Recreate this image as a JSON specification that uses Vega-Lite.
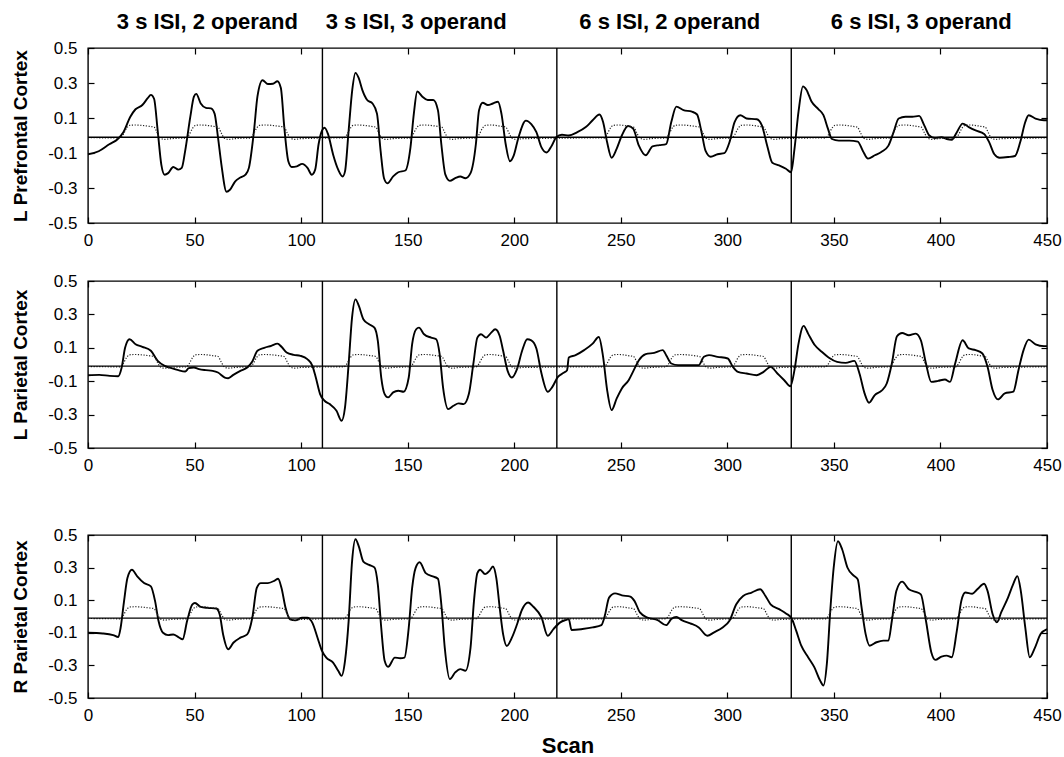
{
  "$schema": "https://vega.github.io/schema/vega-lite/v6.json",
  "padding": {"top": 10, "left": 11, "right": 3, "bottom": 0},
  "background": "white",
  "config": {
    "font": "Liberation Sans",
    "view": {"stroke": "black", "strokeWidth": 1.4},
    "axis": {"grid": false, "domain": false, "tickColor": "black", "tickSize": -6, "tickWidth": 1.2, "labelColor": "black", "labelFont": "Liberation Sans", "labelFontSize": 17, "titleColor": "black", "titleFont": "Liberation Sans", "labelFlush": false}
  },
  "datasets": {
    "sep": [{"scan": 110}, {"scan": 220}, {"scan": 330}],
    "base": [{"value": -0.01}],
    "titles": [
      {"scan": 56, "label": "3 s ISI, 2 operand"},
      {"scan": 154, "label": "3 s ISI, 3 operand"},
      {"scan": 273, "label": "6 s ISI, 2 operand"},
      {"scan": 391, "label": "6 s ISI, 3 operand"}
    ],
    "model": [
      {"scan":0,"value":-0.012},{"scan":15,"value":-0.014},{"scan":16.5,"value":0.005},{"scan":18,"value":0.04},{"scan":19.5,"value":0.058},{"scan":22,"value":0.06},{"scan":29,"value":0.052},{"scan":31,"value":0.048},{"scan":32.5,"value":0.015},{"scan":34,"value":-0.015},{"scan":36,"value":-0.022},{"scan":39,"value":-0.018},{"scan":45,"value":-0.015},
      {"scan":46,"value":-0.015},{"scan":47.5,"value":0.005},{"scan":49,"value":0.04},{"scan":50.5,"value":0.058},{"scan":53,"value":0.06},{"scan":59,"value":0.052},{"scan":61,"value":0.048},{"scan":62.5,"value":0.015},{"scan":64,"value":-0.015},{"scan":66,"value":-0.022},{"scan":69,"value":-0.018},{"scan":75,"value":-0.015},
      {"scan":76,"value":-0.015},{"scan":77.5,"value":0.005},{"scan":79,"value":0.04},{"scan":80.5,"value":0.058},{"scan":83,"value":0.06},{"scan":90,"value":0.052},{"scan":92,"value":0.048},{"scan":93.5,"value":0.015},{"scan":95,"value":-0.015},{"scan":97,"value":-0.022},{"scan":100,"value":-0.018},{"scan":119,"value":-0.014},
      {"scan":120,"value":-0.015},{"scan":121.5,"value":0.005},{"scan":123,"value":0.04},{"scan":124.5,"value":0.058},{"scan":127,"value":0.06},{"scan":133,"value":0.052},{"scan":135,"value":0.048},{"scan":136.5,"value":0.015},{"scan":138,"value":-0.015},{"scan":140,"value":-0.022},{"scan":143,"value":-0.018},{"scan":150,"value":-0.015},
      {"scan":151,"value":-0.015},{"scan":152.5,"value":0.005},{"scan":154,"value":0.04},{"scan":155.5,"value":0.058},{"scan":158,"value":0.06},{"scan":164,"value":0.052},{"scan":166,"value":0.048},{"scan":167.5,"value":0.015},{"scan":169,"value":-0.015},{"scan":171,"value":-0.022},{"scan":174,"value":-0.018},{"scan":181,"value":-0.015},
      {"scan":182,"value":-0.015},{"scan":183.5,"value":0.005},{"scan":185,"value":0.04},{"scan":186.5,"value":0.058},{"scan":189,"value":0.06},{"scan":194,"value":0.052},{"scan":196,"value":0.048},{"scan":197.5,"value":0.015},{"scan":199,"value":-0.015},{"scan":201,"value":-0.022},{"scan":204,"value":-0.018},{"scan":241,"value":-0.014},
      {"scan":242,"value":-0.015},{"scan":243.5,"value":0.005},{"scan":245,"value":0.04},{"scan":246.5,"value":0.058},{"scan":249,"value":0.06},{"scan":254,"value":0.052},{"scan":256,"value":0.048},{"scan":257.5,"value":0.015},{"scan":259,"value":-0.015},{"scan":261,"value":-0.022},{"scan":264,"value":-0.018},{"scan":270,"value":-0.015},
      {"scan":271,"value":-0.015},{"scan":272.5,"value":0.005},{"scan":274,"value":0.04},{"scan":275.5,"value":0.058},{"scan":278,"value":0.06},{"scan":285,"value":0.052},{"scan":287,"value":0.048},{"scan":288.5,"value":0.015},{"scan":290,"value":-0.015},{"scan":292,"value":-0.022},{"scan":295,"value":-0.018},{"scan":301,"value":-0.015},
      {"scan":302,"value":-0.015},{"scan":303.5,"value":0.005},{"scan":305,"value":0.04},{"scan":306.5,"value":0.058},{"scan":309,"value":0.06},{"scan":315,"value":0.052},{"scan":317,"value":0.048},{"scan":318.5,"value":0.015},{"scan":320,"value":-0.015},{"scan":322,"value":-0.022},{"scan":325,"value":-0.018},{"scan":345,"value":-0.014},
      {"scan":346,"value":-0.015},{"scan":347.5,"value":0.005},{"scan":349,"value":0.04},{"scan":350.5,"value":0.058},{"scan":353,"value":0.06},{"scan":359,"value":0.052},{"scan":361,"value":0.048},{"scan":362.5,"value":0.015},{"scan":364,"value":-0.015},{"scan":366,"value":-0.022},{"scan":369,"value":-0.018},{"scan":375,"value":-0.015},
      {"scan":376,"value":-0.015},{"scan":377.5,"value":0.005},{"scan":379,"value":0.04},{"scan":380.5,"value":0.058},{"scan":383,"value":0.06},{"scan":389,"value":0.052},{"scan":391,"value":0.048},{"scan":392.5,"value":0.015},{"scan":394,"value":-0.015},{"scan":396,"value":-0.022},{"scan":399,"value":-0.018},{"scan":406,"value":-0.015},
      {"scan":407,"value":-0.015},{"scan":408.5,"value":0.005},{"scan":410,"value":0.04},{"scan":411.5,"value":0.058},{"scan":414,"value":0.06},{"scan":419,"value":0.052},{"scan":421,"value":0.048},{"scan":422.5,"value":0.015},{"scan":424,"value":-0.015},{"scan":426,"value":-0.022},{"scan":429,"value":-0.018},{"scan":450,"value":-0.014}
    ],
    "pfc": [
      {"scan":0,"value":-0.108},{"scan":5,"value":-0.09},{"scan":10,"value":-0.05},{"scan":14,"value":-0.02},{"scan":16.6,"value":0.018},{"scan":19.8,"value":0.106},{"scan":22.3,"value":0.15},{"scan":25.5,"value":0.174},{"scan":28,"value":0.213},{"scan":29.5,"value":0.232},{"scan":31,"value":0.21},{"scan":32.7,"value":0.028},{"scan":34.4,"value":-0.166},{"scan":36,"value":-0.224},{"scan":37.6,"value":-0.215},{"scan":40,"value":-0.18},{"scan":42.4,"value":-0.195},{"scan":44,"value":-0.185},{"scan":45.6,"value":-0.088},{"scan":48,"value":0.106},{"scan":49.7,"value":0.222},{"scan":50.8,"value":0.238},{"scan":52.9,"value":0.183},{"scan":55.3,"value":0.158},{"scan":57.7,"value":0.155},{"scan":59.4,"value":0.125},{"scan":61,"value":-0.011},{"scan":62.6,"value":-0.166},{"scan":65,"value":-0.321},{"scan":66.6,"value":-0.31},{"scan":69,"value":-0.263},{"scan":71.5,"value":-0.24},{"scan":73.9,"value":-0.224},{"scan":75.5,"value":-0.185},{"scan":77.9,"value":0.028},{"scan":79.5,"value":0.222},{"scan":81.9,"value":0.316},{"scan":84.4,"value":0.294},{"scan":86.8,"value":0.296},{"scan":88.9,"value":0.31},{"scan":90.5,"value":0.271},{"scan":92.1,"value":0.048},{"scan":94,"value":-0.147},{"scan":95.6,"value":-0.18},{"scan":98,"value":-0.176},{"scan":100.5,"value":-0.162},{"scan":103,"value":-0.185},{"scan":105,"value":-0.224},{"scan":106.6,"value":-0.195},{"scan":108.2,"value":-0.05},{"scan":109.8,"value":0.028},{"scan":111,"value":0.044},{"scan":112.6,"value":0.009},{"scan":115,"value":-0.108},{"scan":117.4,"value":-0.195},{"scan":119.5,"value":-0.234},{"scan":120.6,"value":-0.205},{"scan":122.3,"value":0.028},{"scan":124,"value":0.261},{"scan":125.5,"value":0.358},{"scan":127,"value":0.329},{"scan":128.7,"value":0.261},{"scan":131,"value":0.203},{"scan":133.5,"value":0.183},{"scan":135.6,"value":0.125},{"scan":137.3,"value":-0.088},{"scan":138.9,"value":-0.244},{"scan":140.5,"value":-0.273},{"scan":143.2,"value":-0.234},{"scan":145.6,"value":-0.21},{"scan":148.9,"value":-0.2},{"scan":151.3,"value":-0.069},{"scan":152.9,"value":0.125},{"scan":154.5,"value":0.251},{"scan":156.9,"value":0.222},{"scan":159.4,"value":0.203},{"scan":162,"value":0.203},{"scan":164.2,"value":0.145},{"scan":165.8,"value":-0.05},{"scan":167.7,"value":-0.224},{"scan":169.8,"value":-0.259},{"scan":172.3,"value":-0.244},{"scan":174.7,"value":-0.234},{"scan":177.1,"value":-0.244},{"scan":179.5,"value":-0.215},{"scan":182,"value":-0.05},{"scan":183.5,"value":0.145},{"scan":185.2,"value":0.187},{"scan":187.6,"value":0.174},{"scan":190,"value":0.183},{"scan":192.4,"value":0.193},{"scan":194,"value":0.125},{"scan":196,"value":-0.05},{"scan":198,"value":-0.147},{"scan":199.7,"value":-0.117},{"scan":202,"value":-0.011},{"scan":205.5,"value":0.085},{"scan":208,"value":0.065},{"scan":210.4,"value":0.019},{"scan":212.8,"value":-0.068},{"scan":215.2,"value":-0.097},{"scan":217.6,"value":-0.058},{"scan":219.7,"value":-0.01},{"scan":222.4,"value":0.004},{"scan":225.6,"value":0},{"scan":229.6,"value":0.019},{"scan":233.6,"value":0.048},{"scan":236.8,"value":0.087},{"scan":240,"value":0.12},{"scan":241.7,"value":0.077},{"scan":243.6,"value":-0.039},{"scan":245.7,"value":-0.127},{"scan":248,"value":-0.078},{"scan":250.5,"value":0},{"scan":253.4,"value":0.054},{"scan":255.8,"value":0.039},{"scan":258.5,"value":-0.058},{"scan":261.7,"value":-0.113},{"scan":264.9,"value":-0.062},{"scan":268.1,"value":-0.055},{"scan":271.3,"value":-0.049},{"scan":273.7,"value":0.077},{"scan":276.1,"value":0.165},{"scan":279.4,"value":0.145},{"scan":283.4,"value":0.136},{"scan":285.8,"value":0.12},{"scan":287.9,"value":0.019},{"scan":289.8,"value":-0.088},{"scan":292.2,"value":-0.121},{"scan":295.4,"value":-0.107},{"scan":298.6,"value":-0.101},{"scan":301,"value":-0.039},{"scan":303.4,"value":0.077},{"scan":306.1,"value":0.116},{"scan":309,"value":0.097},{"scan":313.8,"value":0.093},{"scan":316.2,"value":0.058},{"scan":318.7,"value":-0.058},{"scan":321.1,"value":-0.156},{"scan":324.3,"value":-0.171},{"scan":327.5,"value":-0.19},{"scan":329.9,"value":-0.21},{"scan":331.5,"value":-0.078},{"scan":333.4,"value":0.136},{"scan":335.5,"value":0.281},{"scan":337.1,"value":0.262},{"scan":339.5,"value":0.194},{"scan":342.7,"value":0.151},{"scan":345.1,"value":0.116},{"scan":347.2,"value":0.039},{"scan":349.1,"value":-0.02},{"scan":352.3,"value":-0.029},{"scan":357.2,"value":-0.029},{"scan":361.2,"value":-0.035},{"scan":363.6,"value":-0.088},{"scan":366,"value":-0.132},{"scan":369.2,"value":-0.113},{"scan":372.4,"value":-0.093},{"scan":375.6,"value":-0.058},{"scan":378,"value":0.019},{"scan":380.4,"value":0.097},{"scan":383.6,"value":0.107},{"scan":386.8,"value":0.107},{"scan":390,"value":0.112},{"scan":392.4,"value":0.058},{"scan":394.8,"value":0},{"scan":397.3,"value":-0.014},{"scan":400.5,"value":-0.01},{"scan":402.9,"value":-0.02},{"scan":405.3,"value":-0.024},{"scan":407.7,"value":0.019},{"scan":410.4,"value":0.068},{"scan":413.3,"value":0.048},{"scan":416.5,"value":0.029},{"scan":420.5,"value":0.009},{"scan":422.9,"value":-0.039},{"scan":425.3,"value":-0.107},{"scan":427.8,"value":-0.127},{"scan":431.8,"value":-0.123},{"scan":435,"value":-0.117},{"scan":437.4,"value":-0.039},{"scan":439.8,"value":0.077},{"scan":441.4,"value":0.116},{"scan":444.6,"value":0.097},{"scan":448.6,"value":0.087},{"scan":450,"value":0.087}
    ],
    "lpar": [
      {"scan":0,"value":-0.064},{"scan":5.3,"value":-0.062},{"scan":10.2,"value":-0.068},{"scan":14.2,"value":-0.07},{"scan":15.8,"value":-0.018},{"scan":17.4,"value":0.1},{"scan":19.5,"value":0.151},{"scan":22.3,"value":0.121},{"scan":25.5,"value":0.106},{"scan":29.5,"value":0.082},{"scan":32.7,"value":0.022},{"scan":36,"value":-0.008},{"scan":39.2,"value":-0.022},{"scan":42.4,"value":-0.034},{"scan":45.6,"value":-0.042},{"scan":47.3,"value":-0.022},{"scan":49.7,"value":-0.018},{"scan":52.1,"value":-0.028},{"scan":55.3,"value":-0.034},{"scan":58.5,"value":-0.038},{"scan":61,"value":-0.048},{"scan":64.2,"value":-0.078},{"scan":65.8,"value":-0.082},{"scan":68.2,"value":-0.062},{"scan":71.5,"value":-0.038},{"scan":74.7,"value":-0.018},{"scan":77.1,"value":0.018},{"scan":79.5,"value":0.082},{"scan":82.7,"value":0.1},{"scan":86,"value":0.112},{"scan":88.9,"value":0.125},{"scan":90.8,"value":0.106},{"scan":93.2,"value":0.072},{"scan":96.5,"value":0.058},{"scan":99.7,"value":0.052},{"scan":102.9,"value":0.032},{"scan":105.3,"value":-0.008},{"scan":106.9,"value":-0.078},{"scan":108.9,"value":-0.177},{"scan":111,"value":-0.217},{"scan":113.4,"value":-0.237},{"scan":116.6,"value":-0.277},{"scan":119,"value":-0.337},{"scan":120.6,"value":-0.257},{"scan":122.3,"value":0.002},{"scan":123.9,"value":0.281},{"scan":125.5,"value":0.39},{"scan":127.1,"value":0.351},{"scan":129.2,"value":0.271},{"scan":131.9,"value":0.241},{"scan":134.4,"value":0.221},{"scan":136,"value":0.141},{"scan":137.6,"value":-0.078},{"scan":139.2,"value":-0.177},{"scan":140.8,"value":-0.197},{"scan":143.2,"value":-0.167},{"scan":145.6,"value":-0.157},{"scan":148.1,"value":-0.163},{"scan":150.5,"value":-0.078},{"scan":152.1,"value":0.122},{"scan":154,"value":0.211},{"scan":155.3,"value":0.221},{"scan":157.7,"value":0.181},{"scan":161,"value":0.161},{"scan":163.4,"value":0.151},{"scan":165,"value":0.062},{"scan":166.6,"value":-0.137},{"scan":169,"value":-0.267},{"scan":171.5,"value":-0.247},{"scan":173.9,"value":-0.233},{"scan":176.3,"value":-0.237},{"scan":178.7,"value":-0.177},{"scan":180.8,"value":0.002},{"scan":182.7,"value":0.161},{"scan":184.4,"value":0.181},{"scan":186.8,"value":0.161},{"scan":189.2,"value":0.191},{"scan":191.1,"value":0.211},{"scan":193.2,"value":0.171},{"scan":194.8,"value":0.082},{"scan":196.9,"value":-0.038},{"scan":198.9,"value":-0.078},{"scan":201.3,"value":-0.028},{"scan":203.7,"value":0.082},{"scan":206.1,"value":0.151},{"scan":208,"value":0.145},{"scan":210.4,"value":0.096},{"scan":212.8,"value":-0.054},{"scan":215.7,"value":-0.163},{"scan":217.9,"value":-0.134},{"scan":220.5,"value":-0.074},{"scan":223.2,"value":-0.05},{"scan":224.8,"value":-0.034},{"scan":225.6,"value":0.042},{"scan":228.8,"value":0.056},{"scan":232.8,"value":0.086},{"scan":236.8,"value":0.125},{"scan":239.7,"value":0.165},{"scan":241.7,"value":0.046},{"scan":243.6,"value":-0.153},{"scan":245.7,"value":-0.273},{"scan":248.1,"value":-0.203},{"scan":250.5,"value":-0.143},{"scan":253.7,"value":-0.094},{"scan":256.1,"value":-0.034},{"scan":258.5,"value":0.026},{"scan":261.7,"value":0.062},{"scan":265.7,"value":0.07},{"scan":269.7,"value":0.086},{"scan":271.3,"value":0.056},{"scan":273.7,"value":0.006},{"scan":276.9,"value":-0.004},{"scan":281.8,"value":-0.004},{"scan":286.6,"value":-0.004},{"scan":289,"value":0.046},{"scan":291.4,"value":0.056},{"scan":295.4,"value":0.046},{"scan":300.2,"value":0.036},{"scan":302.6,"value":-0.014},{"scan":305,"value":-0.044},{"scan":309,"value":-0.054},{"scan":313.8,"value":-0.064},{"scan":317,"value":-0.044},{"scan":320.3,"value":-0.014},{"scan":323.5,"value":-0.054},{"scan":326.7,"value":-0.094},{"scan":329.6,"value":-0.13},{"scan":331.5,"value":-0.034},{"scan":333.4,"value":0.125},{"scan":335.8,"value":0.231},{"scan":337.9,"value":0.185},{"scan":341.1,"value":0.115},{"scan":344.3,"value":0.076},{"scan":347.5,"value":0.042},{"scan":351.5,"value":0.016},{"scan":355.5,"value":0.01},{"scan":359.6,"value":0.022},{"scan":362,"value":-0.054},{"scan":364.4,"value":-0.173},{"scan":366.5,"value":-0.229},{"scan":369.2,"value":-0.183},{"scan":372.4,"value":-0.157},{"scan":374.8,"value":-0.114},{"scan":377.2,"value":0.006},{"scan":379.6,"value":0.169},{"scan":382,"value":0.189},{"scan":385.2,"value":0.175},{"scan":388.4,"value":0.185},{"scan":390.8,"value":0.145},{"scan":393.2,"value":0.006},{"scan":395.7,"value":-0.104},{"scan":398.9,"value":-0.098},{"scan":402.1,"value":-0.09},{"scan":404.5,"value":-0.104},{"scan":406.9,"value":0.006},{"scan":410.4,"value":0.145},{"scan":413.3,"value":0.096},{"scan":416.5,"value":0.086},{"scan":419.7,"value":0.066},{"scan":422.1,"value":-0.014},{"scan":424.5,"value":-0.153},{"scan":427,"value":-0.209},{"scan":430.2,"value":-0.173},{"scan":434.2,"value":-0.163},{"scan":436.6,"value":-0.034},{"scan":439,"value":0.086},{"scan":441.4,"value":0.149},{"scan":444.6,"value":0.121},{"scan":448.6,"value":0.11},{"scan":450,"value":0.11}
    ],
    "rpar": [
      {"scan":0,"value":-0.1},{"scan":6.9,"value":-0.104},{"scan":11.8,"value":-0.114},{"scan":14.2,"value":-0.126},{"scan":15.3,"value":-0.069},{"scan":16.9,"value":0.093},{"scan":18.5,"value":0.236},{"scan":20.6,"value":0.287},{"scan":23.1,"value":0.246},{"scan":26.3,"value":0.205},{"scan":29.5,"value":0.185},{"scan":31.5,"value":0.093},{"scan":33.1,"value":-0.028},{"scan":35.2,"value":-0.1},{"scan":37.6,"value":-0.114},{"scan":40,"value":-0.11},{"scan":42.4,"value":-0.126},{"scan":44.4,"value":-0.14},{"scan":46.5,"value":-0.028},{"scan":48.9,"value":0.073},{"scan":50.2,"value":0.083},{"scan":52.9,"value":0.059},{"scan":56.1,"value":0.053},{"scan":60.2,"value":0.049},{"scan":61.8,"value":0.012},{"scan":63.4,"value":-0.11},{"scan":65.8,"value":-0.201},{"scan":68.2,"value":-0.161},{"scan":71.5,"value":-0.13},{"scan":74.7,"value":-0.11},{"scan":77.1,"value":-0.008},{"scan":79.2,"value":0.175},{"scan":81.1,"value":0.205},{"scan":84.4,"value":0.205},{"scan":87.6,"value":0.22},{"scan":89.2,"value":0.232},{"scan":90.8,"value":0.175},{"scan":92.7,"value":0.053},{"scan":94.8,"value":-0.018},{"scan":97.3,"value":-0.024},{"scan":100.5,"value":-0.008},{"scan":102.9,"value":-0.008},{"scan":105.3,"value":-0.039},{"scan":107.7,"value":-0.13},{"scan":109.8,"value":-0.211},{"scan":111.8,"value":-0.252},{"scan":115,"value":-0.283},{"scan":117.4,"value":-0.333},{"scan":119,"value":-0.364},{"scan":120.6,"value":-0.272},{"scan":122.3,"value":-0.028},{"scan":123.9,"value":0.337},{"scan":125.5,"value":0.474},{"scan":127.1,"value":0.429},{"scan":129.2,"value":0.337},{"scan":131.9,"value":0.317},{"scan":134.4,"value":0.301},{"scan":136,"value":0.195},{"scan":137.6,"value":-0.069},{"scan":139.2,"value":-0.272},{"scan":140.8,"value":-0.309},{"scan":144,"value":-0.252},{"scan":146.5,"value":-0.256},{"scan":148.5,"value":-0.252},{"scan":150.5,"value":-0.069},{"scan":152.1,"value":0.175},{"scan":153.7,"value":0.297},{"scan":155.6,"value":0.333},{"scan":158.5,"value":0.266},{"scan":161.8,"value":0.246},{"scan":164.2,"value":0.232},{"scan":165.8,"value":0.073},{"scan":167.4,"value":-0.191},{"scan":169.8,"value":-0.384},{"scan":172.3,"value":-0.343},{"scan":174.7,"value":-0.323},{"scan":177.1,"value":-0.333},{"scan":179.5,"value":-0.191},{"scan":181.1,"value":0.093},{"scan":182.7,"value":0.266},{"scan":184,"value":0.287},{"scan":186.3,"value":0.26},{"scan":188.4,"value":0.28},{"scan":190,"value":0.307},{"scan":191.6,"value":0.236},{"scan":193.2,"value":0.053},{"scan":194.8,"value":-0.11},{"scan":196.5,"value":-0.181},{"scan":198.9,"value":-0.13},{"scan":201.3,"value":-0.049},{"scan":203.7,"value":0.043},{"scan":206.5,"value":0.086},{"scan":209,"value":0.06},{"scan":212.8,"value":-0.006},{"scan":215.7,"value":-0.118},{"scan":218.4,"value":-0.077},{"scan":221.6,"value":-0.036},{"scan":224,"value":-0.022},{"scan":225.6,"value":-0.016},{"scan":226.9,"value":-0.083},{"scan":232,"value":-0.077},{"scan":236.8,"value":-0.067},{"scan":240.9,"value":-0.053},{"scan":242.5,"value":0.004},{"scan":244.5,"value":0.116},{"scan":247.3,"value":0.142},{"scan":250.5,"value":0.13},{"scan":254.5,"value":0.122},{"scan":256.4,"value":0.096},{"scan":259,"value":0.025},{"scan":262.5,"value":-0.006},{"scan":267.3,"value":-0.022},{"scan":271.3,"value":-0.053},{"scan":273.7,"value":-0.016},{"scan":276.1,"value":-0.002},{"scan":278.6,"value":-0.022},{"scan":282.6,"value":-0.042},{"scan":286.6,"value":-0.067},{"scan":290.6,"value":-0.118},{"scan":293.8,"value":-0.097},{"scan":297.8,"value":-0.067},{"scan":301,"value":-0.026},{"scan":304.2,"value":0.075},{"scan":307.4,"value":0.126},{"scan":311.4,"value":0.147},{"scan":315.4,"value":0.167},{"scan":317.9,"value":0.126},{"scan":320.3,"value":0.075},{"scan":324.3,"value":0.045},{"scan":327.5,"value":0.019},{"scan":330.2,"value":-0.012},{"scan":332.3,"value":-0.087},{"scan":334.7,"value":-0.179},{"scan":337.9,"value":-0.25},{"scan":340.8,"value":-0.311},{"scan":343.5,"value":-0.392},{"scan":345.1,"value":-0.423},{"scan":346.7,"value":-0.29},{"scan":348.3,"value":0.035},{"scan":349.9,"value":0.299},{"scan":351.9,"value":0.462},{"scan":353.9,"value":0.411},{"scan":356.4,"value":0.299},{"scan":359.6,"value":0.248},{"scan":361.2,"value":0.228},{"scan":362.8,"value":0.075},{"scan":364.9,"value":-0.108},{"scan":366.8,"value":-0.179},{"scan":370,"value":-0.158},{"scan":373.2,"value":-0.148},{"scan":375.6,"value":-0.148},{"scan":377.2,"value":-0.026},{"scan":379.3,"value":0.157},{"scan":382,"value":0.214},{"scan":385.2,"value":0.167},{"scan":388.4,"value":0.151},{"scan":390.8,"value":0.136},{"scan":393.2,"value":-0.026},{"scan":395.7,"value":-0.219},{"scan":397.6,"value":-0.266},{"scan":400.5,"value":-0.246},{"scan":402.9,"value":-0.24},{"scan":405.3,"value":-0.25},{"scan":407.7,"value":-0.087},{"scan":409.8,"value":0.096},{"scan":411.7,"value":0.147},{"scan":414.9,"value":0.14},{"scan":417.3,"value":0.167},{"scan":420.5,"value":0.201},{"scan":422.1,"value":0.157},{"scan":424.5,"value":0.014},{"scan":426.5,"value":-0.036},{"scan":428.5,"value":0.025},{"scan":431.7,"value":0.116},{"scan":434.1,"value":0.197},{"scan":436.1,"value":0.248},{"scan":437.7,"value":0.157},{"scan":439.8,"value":-0.067},{"scan":441.9,"value":-0.25},{"scan":444.1,"value":-0.199},{"scan":447,"value":-0.108},{"scan":450,"value":-0.077}
    ]
  },
  "spacing": 51,
  "vconcat": [
    {
      "spacing": 22,
      "vconcat": [
        {
          "width": 959, "height": 175,
          "layer": [
            {"data": {"name": "pfc"}, "mark": {"type": "line", "color": "black", "strokeWidth": 1.9, "interpolate": "monotone"},
             "encoding": {
               "x": {"field": "scan", "type": "quantitative", "scale": {"domain": [0, 450], "nice": false}, "axis": {"orient": "bottom", "values": [0,50,100,150,200,250,300,350,400,450], "title": null, "labelPadding": 15}},
               "y": {"field": "value", "type": "quantitative", "scale": {"domain": [-0.5, 0.5], "nice": false, "zero": false}, "axis": {"orient": "left", "values": [-0.5,-0.3,-0.1,0.1,0.3,0.5], "format": ".1f", "labelExpr": "replace(datum.label, '\u2212', '-')", "labelPadding": 17, "title": "L Prefrontal Cortex", "titleFontSize": 19, "titleFontWeight": "bold", "titlePadding": 17}}
             }},
            {"data": {"name": "model"}, "mark": {"type": "line", "color": "#222222", "strokeWidth": 1.2, "strokeDash": [1.2, 1.6], "interpolate": "monotone"},
             "encoding": {
               "x": {"field": "scan", "type": "quantitative", "scale": {"domain": [0, 450], "nice": false}, "axis": {"orient": "top", "values": [0,50,100,150,200,250,300,350,400,450], "labels": false, "title": null}},
               "y": {"field": "value", "type": "quantitative", "scale": {"domain": [-0.5, 0.5], "nice": false, "zero": false}, "axis": {"orient": "right", "values": [-0.5,-0.3,-0.1,0.1,0.3,0.5], "labels": false, "title": null}}
             }},
            {"data": {"name": "sep"}, "mark": {"type": "rule", "color": "black", "strokeWidth": 1.4},
             "encoding": {"x": {"field": "scan", "type": "quantitative", "axis": null}}},
            {"data": {"name": "base"}, "mark": {"type": "rule", "color": "black", "strokeWidth": 1.4},
             "encoding": {"y": {"field": "value", "type": "quantitative", "axis": null}}},
            {"data": {"name": "titles"}, "mark": {"type": "text", "fontSize": 22, "fontWeight": "bold", "font": "Liberation Sans", "baseline": "middle", "color": "black"},
             "encoding": {"x": {"field": "scan", "type": "quantitative", "axis": null}, "y": {"datum": 0.65, "type": "quantitative", "axis": null}, "text": {"field": "label"}}}
          ]
        },
        {
          "width": 959, "height": 167,
          "layer": [
            {"data": {"name": "lpar"}, "mark": {"type": "line", "color": "black", "strokeWidth": 1.9, "interpolate": "monotone"},
             "encoding": {
               "x": {"field": "scan", "type": "quantitative", "scale": {"domain": [0, 450], "nice": false}, "axis": {"orient": "bottom", "values": [0,50,100,150,200,250,300,350,400,450], "title": null, "labelPadding": 15}},
               "y": {"field": "value", "type": "quantitative", "scale": {"domain": [-0.5, 0.5], "nice": false, "zero": false}, "axis": {"orient": "left", "values": [-0.5,-0.3,-0.1,0.1,0.3,0.5], "format": ".1f", "labelExpr": "replace(datum.label, '\u2212', '-')", "labelPadding": 17, "title": "L Parietal Cortex", "titleFontSize": 19, "titleFontWeight": "bold", "titlePadding": 17}}
             }},
            {"data": {"name": "model"}, "mark": {"type": "line", "color": "#222222", "strokeWidth": 1.2, "strokeDash": [1.2, 1.6], "interpolate": "monotone"},
             "encoding": {
               "x": {"field": "scan", "type": "quantitative", "scale": {"domain": [0, 450], "nice": false}, "axis": {"orient": "top", "values": [0,50,100,150,200,250,300,350,400,450], "labels": false, "title": null}},
               "y": {"field": "value", "type": "quantitative", "scale": {"domain": [-0.5, 0.5], "nice": false, "zero": false}, "axis": {"orient": "right", "values": [-0.5,-0.3,-0.1,0.1,0.3,0.5], "labels": false, "title": null}}
             }},
            {"data": {"name": "sep"}, "mark": {"type": "rule", "color": "black", "strokeWidth": 1.4},
             "encoding": {"x": {"field": "scan", "type": "quantitative", "axis": null}}},
            {"data": {"name": "base"}, "mark": {"type": "rule", "color": "black", "strokeWidth": 1.4},
             "encoding": {"y": {"field": "value", "type": "quantitative", "axis": null}}}
          ]
        }
      ]
    },
    {
      "width": 959, "height": 163,
      "layer": [
        {"data": {"name": "rpar"}, "mark": {"type": "line", "color": "black", "strokeWidth": 1.9, "interpolate": "monotone"},
         "encoding": {
           "x": {"field": "scan", "type": "quantitative", "scale": {"domain": [0, 450], "nice": false}, "axis": {"orient": "bottom", "values": [0,50,100,150,200,250,300,350,400,450], "title": "Scan", "titleFontSize": 22, "titleFontWeight": "bold", "titlePadding": 12, "labelPadding": 15}},
           "y": {"field": "value", "type": "quantitative", "scale": {"domain": [-0.5, 0.5], "nice": false, "zero": false}, "axis": {"orient": "left", "values": [-0.5,-0.3,-0.1,0.1,0.3,0.5], "format": ".1f", "labelExpr": "replace(datum.label, '\u2212', '-')", "labelPadding": 17, "title": "R Parietal Cortex", "titleFontSize": 19, "titleFontWeight": "bold", "titlePadding": 17}}
         }},
        {"data": {"name": "model"}, "mark": {"type": "line", "color": "#222222", "strokeWidth": 1.2, "strokeDash": [1.2, 1.6], "interpolate": "monotone"},
         "encoding": {
           "x": {"field": "scan", "type": "quantitative", "scale": {"domain": [0, 450], "nice": false}, "axis": {"orient": "top", "values": [0,50,100,150,200,250,300,350,400,450], "labels": false, "title": null}},
           "y": {"field": "value", "type": "quantitative", "scale": {"domain": [-0.5, 0.5], "nice": false, "zero": false}, "axis": {"orient": "right", "values": [-0.5,-0.3,-0.1,0.1,0.3,0.5], "labels": false, "title": null}}
         }},
        {"data": {"name": "sep"}, "mark": {"type": "rule", "color": "black", "strokeWidth": 1.4},
         "encoding": {"x": {"field": "scan", "type": "quantitative", "axis": null}}},
        {"data": {"name": "base"}, "mark": {"type": "rule", "color": "black", "strokeWidth": 1.4},
         "encoding": {"y": {"field": "value", "type": "quantitative", "axis": null}}}
      ]
    }
  ]
}
